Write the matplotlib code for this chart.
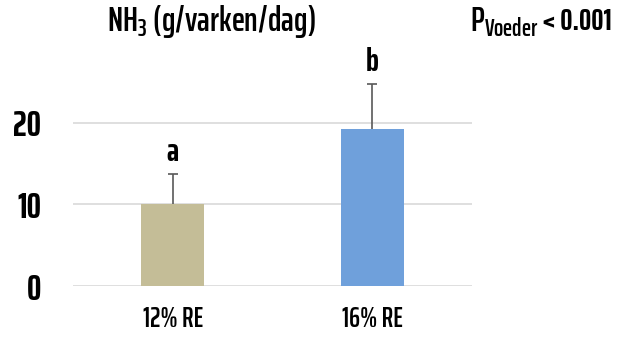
import matplotlib
matplotlib.use("Agg")
import matplotlib.pyplot as plt
from matplotlib import font_manager
import numpy as np

# data
categories = ["12% RE", "16% RE"]
values = [10.0, 19.3]
errors = [3.7, 5.4]
letters = ["a", "b"]
colors = ["#c4bd97", "#6fa0db"]

# pick a condensed font that is installed
available = set(f.name for f in font_manager.fontManager.ttflist)
font = 'DejaVu Sans'
for cand in ['Saira ExtraCondensed', 'Sofia Sans Extra Condensed', 'Barlow Condensed']:
    if cand in available:
        font = cand
        break

plt.rcParams['font.family'] = [font, 'DejaVu Sans']
plt.rcParams['font.weight'] = 'semibold'
plt.rcParams['mathtext.fontset'] = 'custom'
plt.rcParams['mathtext.rm'] = font + ':semibold'
plt.rcParams['mathtext.it'] = font + ':semibold'
plt.rcParams['mathtext.bf'] = font + ':bold'

fig = plt.figure(figsize=(6.27, 3.38), dpi=100)
ax = fig.add_axes([73/627, 1-286/338, 399/627, 204/338])

x = np.arange(len(categories))
ax.bar(x, values, width=0.316, color=colors, zorder=3)
eb = ax.errorbar(x, values, yerr=[np.zeros(len(errors)), errors], fmt='none',
                 ecolor='#595959', elinewidth=1.2, capsize=3.5, capthick=1.2, zorder=4)
# only the upper cap is shown
eb[1][0].set_visible(False)

for xi, v, e, t in zip(x, values, errors, letters):
    ax.text(xi, v + e + 0.9, t, ha='center', va='bottom', fontsize=24, weight='bold')

ax.set_xlim(-0.5, 1.5)
ax.set_ylim(0, 25)
ax.set_yticks([0, 10, 20])
ax.set_xticks(x)
ax.set_xticklabels(categories, fontsize=20)
ax.set_yticklabels(["0", "10", "20"], fontsize=26, weight='bold')
ax.tick_params(axis='y', length=0, pad=23)
ax.tick_params(axis='x', length=0, pad=14)
ax.grid(axis='y', color='#d9d9d9', linewidth=1.2, zorder=0)
for s in ax.spines.values():
    s.set_visible(False)

fig.text(211/627, 1-22/338, r"NH$_3$ (g/varken/dag)", ha='center', va='center', fontsize=25)
fig.text(470/627, 1-22/338, r"P$_{\mathrm{Voeder}}$", ha='left', va='center', fontsize=25)
fig.text(612/627, 1-22/338, "< 0.001", ha='right', va='center', fontsize=22, weight='bold')

fig.savefig("out.png", dpi=100)
